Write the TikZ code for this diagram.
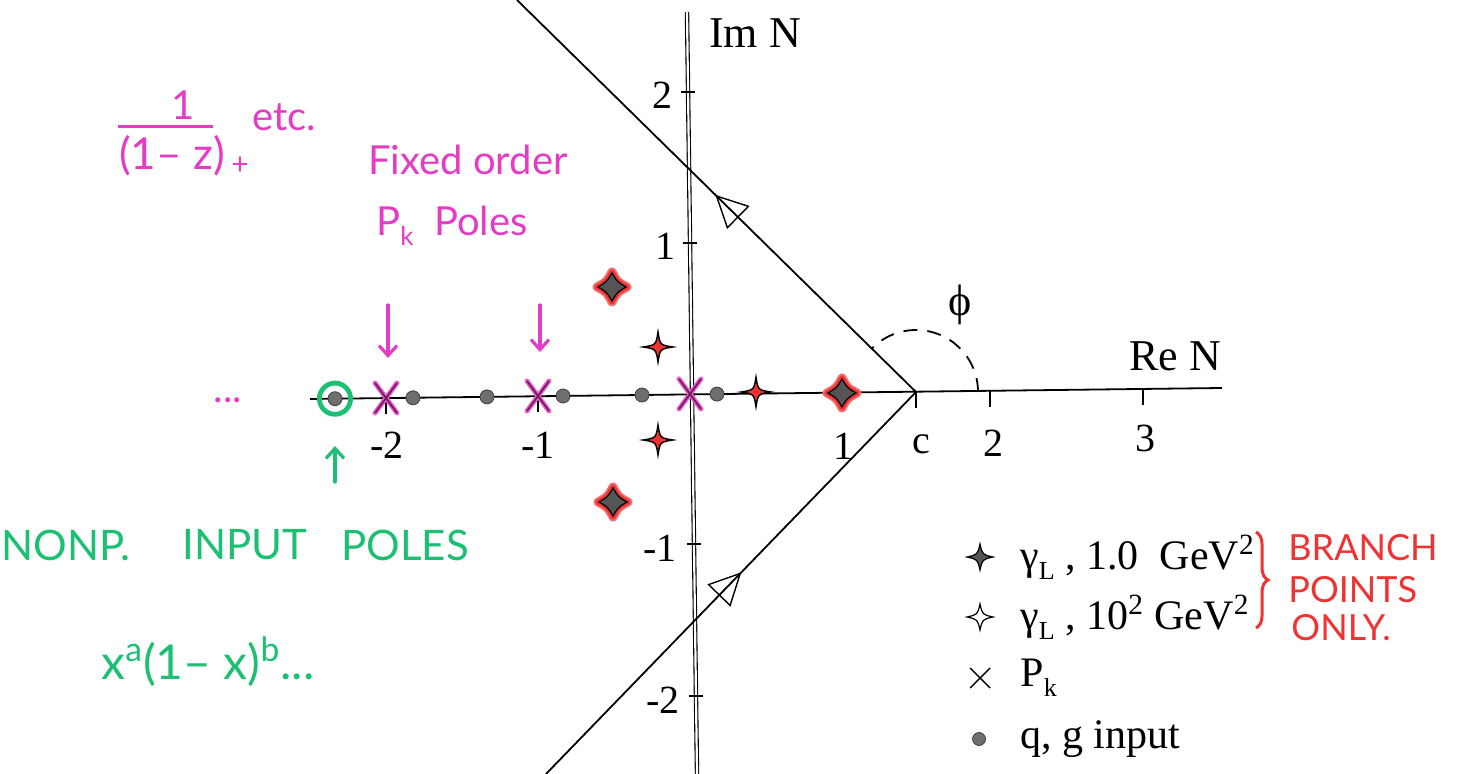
\documentclass[tikz,border=0pt]{standalone}
\usepackage{fontspec}
\setmainfont{Liberation Serif}
\newfontfamily\hand{Lato}
\usetikzlibrary{arrows.meta,decorations.markings,decorations.pathreplacing}
\definecolor{mag}{HTML}{E43CC4}
\definecolor{grn}{HTML}{1DBF73}
\definecolor{redh}{HTML}{EE3333}
\definecolor{dotgray}{HTML}{6E6E6E}
\definecolor{stargray}{HTML}{555555}
\newcommand{\lowidx}[1]{\raisebox{-0.5ex}{\fontsize{13}{13}\selectfont #1}}
\tikzset{
  axisline/.style={line width=0.9pt, black},
  contour/.style={line width=0.9pt, black},
  tickline/.style={line width=0.8pt, black},
  qdot/.style={circle, fill=dotgray, draw=black!75, line width=0.4pt, inner sep=0pt, minimum size=7pt},
  lbl/.style={font=\fontsize{20}{24}\selectfont, inner sep=0pt},
  axlbl/.style={font=\fontsize{22}{26}\selectfont, inner sep=0pt},
  legtext/.style={font=\fontsize{21}{25}\selectfont, inner sep=0pt, anchor=west},
  handmag/.style={text=mag, font=\hand\fontsize{20}{23}\selectfont, inner sep=0pt},
  handgrn/.style={text=grn, font=\hand\fontsize{21}{24}\selectfont, inner sep=0pt},
  handred/.style={text=redh, font=\hand\fontsize{18}{20}\selectfont, inner sep=0pt},
  handarrow/.style={line width=1.6pt, line cap=round, -{Straight Barb[length=5pt,width=9pt,line width=1.6pt]}},
  opentri/.style={decoration={markings, mark=at position #1 with {
      \draw[line width=0.7pt, line join=miter] (0,0) -- (-15pt,7.5pt) -- (-15pt,-7.5pt) -- cycle;}},
    postaction={decorate}},
  pics/smallstar/.style={code={
    \path[pic actions] (7.5pt,0) .. controls (1pt,1pt) .. (0,7.5pt) .. controls (-1pt,1pt) .. (-7.5pt,0)
      .. controls (-1pt,-1pt) .. (0,-7.5pt) .. controls (1pt,-1pt) .. cycle;
  }},
  pics/legstar/.style={code={
    \path[pic actions] (6.5pt,0) .. controls (1.2pt,1.2pt) .. (0,6.5pt) .. controls (-1.2pt,1.2pt) .. (-6.5pt,0)
      .. controls (-1.2pt,-1.2pt) .. (0,-6.5pt) .. controls (1.2pt,-1.2pt) .. cycle;
  }},
  pics/bigstar/.style={code={
    \path[draw=redh!70, line width=4.5pt, line join=round] (7.5pt,0) .. controls (2.6pt,2.6pt) .. (0,7.5pt) .. controls (-2.6pt,2.6pt) .. (-7.5pt,0)
      .. controls (-2.6pt,-2.6pt) .. (0,-7.5pt) .. controls (2.6pt,-2.6pt) .. cycle;
    \path[draw=redh, line width=2.6pt, line join=round] (7.5pt,0) .. controls (2.6pt,2.6pt) .. (0,7.5pt) .. controls (-2.6pt,2.6pt) .. (-7.5pt,0)
      .. controls (-2.6pt,-2.6pt) .. (0,-7.5pt) .. controls (2.6pt,-2.6pt) .. cycle;
    \path[fill=stargray, draw=black, line width=0.6pt] (7pt,0) .. controls (2.6pt,2.6pt) .. (0,7pt) .. controls (-2.6pt,2.6pt) .. (-7pt,0)
      .. controls (-2.6pt,-2.6pt) .. (0,-7pt) .. controls (2.6pt,-2.6pt) .. cycle;
  }},
  pics/pkx/.style={code={
    \draw[mag!85, line width=2.4pt, line cap=round] (-5.5pt,-7.5pt) -- (5.5pt,7.5pt) (-5.5pt,7.5pt) -- (5.5pt,-7.5pt);
    \draw[black!55!mag, line width=0.8pt] (-5.5pt,-7.5pt) -- (5.5pt,7.5pt) (-5.5pt,7.5pt) -- (5.5pt,-7.5pt);
  }},
  pics/legx/.style={code={
    \draw[black, line width=0.7pt] (-5pt,-5pt) -- (5pt,5pt) (-5pt,5pt) -- (5pt,-5pt);
  }},
}
\begin{document}
\begin{tikzpicture}[x=0.5pt,y=-0.5pt]
\useasboundingbox[fill=white] (0,0) rectangle (1461,774);

% ---------- axes ----------
\coordinate (hl) at (310,399);
\coordinate (hr) at (1222,388);
\coordinate (vt) at (687,12);
\coordinate (vb) at (697,774);
\coordinate (c) at (916,392);
\draw[axisline] (hl) -- (hr);
\draw[double=white, double distance=1.1pt, line width=0.55pt] (vt) -- (vb);

% real-axis ticks
\foreach \x/\y in {386/398,538/396,843/393,916/392,990/391,1143/389}
  \draw[tickline] (\x,\y) -- (\x,\y+16);
% imaginary-axis ticks
\foreach \x/\y in {688/92,690/243,694/544,696/696}
  \draw[tickline] (\x-7,\y) -- (\x+7,\y);

% tick labels
\node[lbl] (lm2) at (387,445) {-2};
\node[lbl] (lm1) at (538,445) {-1};
\node[lbl] (l1) at (843,446) {1};
\node[lbl] (lc) at (921,444) {c};
\node[lbl] (l2) at (993,443) {2};
\node[lbl] (l3) at (1145,438) {3};
\node[lbl] (i2) at (662,95) {2};
\node[lbl] (i1) at (665,246) {1};
\node[lbl] (im1) at (660,548) {-1};
\node[lbl] (im2) at (663,700) {-2};
\node[axlbl] (imN) at (755,33) {Im N};
\node[axlbl] (reN) at (1175,356) {Re N};
\node[axlbl] (phi) at (960,305) {ϕ};

% ---------- contour ----------
\coordinate (ctop) at (517,0);
\coordinate (cbot) at (546,774);
\draw[contour, opentri=0.5] (c) -- (ctop);
\draw[contour, opentri=0.525] (cbot) -- (c);
\draw[line width=0.9pt, dash pattern=on 7pt off 5pt] (c) ++(0:31pt) arc[start angle=0, end angle=135, radius=31pt];

% ---------- poles ----------
\node[qdot] (d1) at (335,398.7) {};
\node[qdot] (d2) at (413,397.8) {};
\node[qdot] (d3) at (487,396.9) {};
\node[qdot] (d4) at (563,396) {};
\node[qdot] (d5) at (642,395) {};
\node[qdot] (d6) at (717,394.1) {};
\pic (x1) at (386,398) {pkx};
\pic (x2) at (538,396) {pkx};
\pic (x3) at (690,394) {pkx};

\pic[fill=redh, draw=black, line width=0.7pt] (s1) at (658,347) {smallstar};
\pic[fill=redh, draw=black, line width=0.7pt] (s2) at (658,440) {smallstar};
\pic[fill=redh, draw=black, line width=0.7pt] (s3) at (756,392) {smallstar};
\pic (b1) at (612,287) {bigstar};
\pic (b2) at (613,502) {bigstar};
\pic (b3) at (842,393) {bigstar};

% ---------- legend ----------
\pic[fill=stargray, draw=black, line width=0.6pt] (ls1) at (980,557) {legstar};
\pic[fill=white, draw=black, line width=0.6pt] (ls2) at (980,617) {legstar};
\pic (lx) at (980,678) {legx};
\node[qdot, minimum size=6.5pt] (ld) at (979,739) {};
\node[legtext] (t1) at (1020,557) {γ\lowidx{L} , 1.0\ \ GeV\textsuperscript{2}};
\node[legtext] (t2) at (1020,617) {γ\lowidx{L} , 10\textsuperscript{2} GeV\textsuperscript{2}};
\node[legtext] (t3) at (1020,678) {P\lowidx{k}};
\node[legtext] (t4) at (1020,739) {q, g input};

% ---------- red annotation ----------
\coordinate (brt) at (1256,532);
\coordinate (brb) at (1256,628);
\draw[redh, line width=1.5pt, decorate, decoration={brace, amplitude=6pt}] (brt) -- (brb);
\node[handred, anchor=west] (br1) at (1288,548) {BRANCH};
\node[handred, anchor=west] (br2) at (1288,590) {POINTS};
\node[handred, anchor=west] (br3) at (1291,628) {ONLY.};

% ---------- magenta annotation ----------
\node[handmag] (num) at (183,105) {1};
\coordinate (fbl) at (118,127);
\coordinate (fbr) at (213,127);
\draw[mag, line width=1.5pt] (fbl) -- (fbr);
\node[handmag, font=\hand\fontsize{22}{24}\selectfont] (den) at (172,156) {(1– z)};
\node[handmag, font=\hand\fontsize{15}{16}\selectfont] (plus) at (240,166) {+};
\node[handmag] (etc) at (284,117) {etc.};
\node[handmag] (fo) at (468,160) {Fixed order};
\node[handmag] (pk) at (452,226) {P\lowidx{k}\ \ Poles};
\node[handmag] (dots) at (228,400) {...};
\coordinate (a1s) at (388,305);
\coordinate (a1e) at (388,358);
\coordinate (a2s) at (540,305);
\coordinate (a2e) at (540,352);
\draw[mag, handarrow] (a1s) -- (a1e);
\draw[mag, handarrow] (a2s) -- (a2e);

% ---------- green annotation ----------
\draw[grn, line width=2.4pt] (d1) circle (7.8pt);
\coordinate (g1s) at (335,482);
\coordinate (g1e) at (335,446);
\draw[grn, handarrow] (g1s) -- (g1e);
\node[handgrn] (w1) at (66,545) {NONP.};
\node[handgrn] (w2) at (245,545) {INPUT};
\node[handgrn] (w3) at (405,545) {POLES};
\node[handgrn, font=\hand\fontsize{24}{27}\selectfont] (xab) at (208,662) {x\textsuperscript{a}(1– x)\textsuperscript{b}...};
\end{tikzpicture}
\end{document}
